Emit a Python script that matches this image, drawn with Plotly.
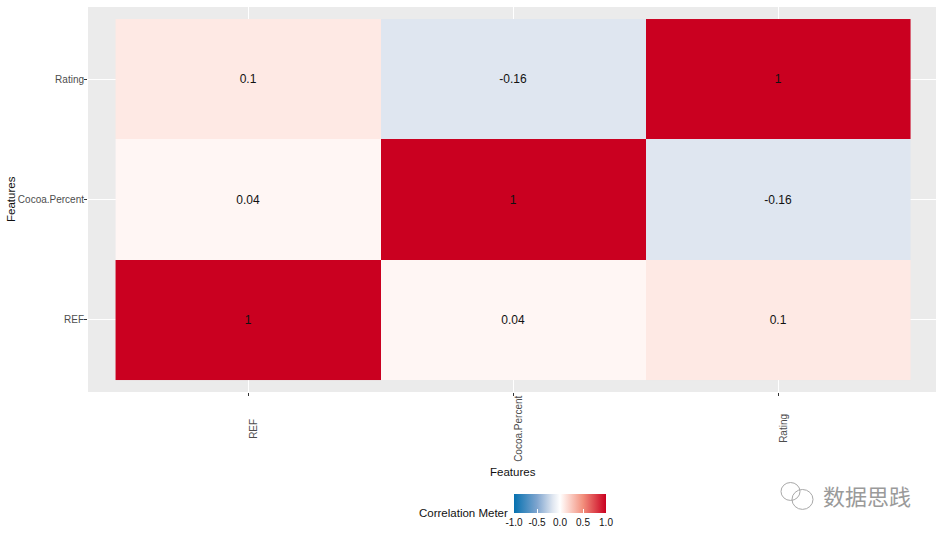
import plotly.graph_objects as go

features = ["REF", "Cocoa.Percent", "Rating"]
row_ref = [1, 0.04, 0.1]
row_cocoa = [0.04, 1, -0.16]
row_rating = [0.1, -0.16, 1]
z_values = [row_ref, row_cocoa, row_rating]
cell_text = [[str(v) for v in row] for row in z_values]
bar_ticks = [-1.0, -0.5, 0.0, 0.5, 1.0]

W, H = 943, 539
L, R, T, B = 88, 936, 7, 394
PW, PH = R - L, B - T


def px(x):
    return (x - L) / PW


def py(y):
    return (B - y) / PH


colorscale = [
    [0.0, "#0571b0"], [0.25, "#7fa5cf"], [0.42, "#dfe6f0"], [0.5, "#ffffff"],
    [0.55, "#fee9e4"], [0.75, "#f28f7c"], [1.0, "#ca0020"],
]

fig = go.Figure(go.Heatmap(
    x=[0, 1, 2], y=[0, 1, 2], z=z_values, zmin=-1, zmax=1,
    colorscale=colorscale, xgap=0, ygap=0,
    text=cell_text, texttemplate="%{text}",
    textfont=dict(size=12, color="#111111", family="Liberation Sans"),
    colorbar=dict(
        orientation="h", x=px(514), xanchor="left", y=py(497), yanchor="top",
        lenmode="pixels", len=92, thicknessmode="pixels", thickness=19,
        tickvals=bar_ticks, ticktext=[f"{v:.1f}" for v in bar_ticks],
        ticks="inside", ticklen=4, tickcolor="white", tickwidth=1,
        tickfont=dict(size=10, color="#111111", family="Liberation Sans"),
        outlinewidth=0, xpad=0, ypad=0,
    ),
))

annotations = [
    dict(x=f_i, y=py(431), xref="x", yref="paper", text=name, textangle=-90,
         showarrow=False, xshift=6, xanchor="center", yanchor="middle",
         font=dict(size=10, color="#4d4d4d"))
    for f_i, name in enumerate(features)
]
annotations += [
    dict(x=px(513), y=py(474), xref="paper", yref="paper", text="Features",
         showarrow=False, xanchor="center", yanchor="middle",
         font=dict(size=11.5, color="#111111")),
    dict(x=px(11), y=py(200), xref="paper", yref="paper", text="Features", textangle=-90,
         showarrow=False, xanchor="center", yanchor="middle",
         font=dict(size=11.5, color="#111111")),
    dict(x=px(510), y=py(516), xref="paper", yref="paper", text="Correlation Meter",
         showarrow=False, xanchor="right", yanchor="middle",
         font=dict(size=11.5, color="#111111")),
    dict(x=px(867), y=py(498), xref="paper", yref="paper", text="数据思践",
         showarrow=False, xanchor="center", yanchor="middle",
         font=dict(size=22, color="#9a9a9a", family="Noto Sans CJK SC")),
]

bubble = dict(type="circle", xref="paper", yref="paper",
              line=dict(color="#a8a8a8", width=1), fillcolor="rgba(0,0,0,0)")
shapes = [
    dict(bubble, x0=px(781), x1=px(800), y0=py(503), y1=py(485)),
    dict(bubble, x0=px(792), x1=px(813), y0=py(512), y1=py(492)),
]

fig.update_layout(
    width=W, height=H,
    margin=dict(l=L, r=W - R, t=T, b=H - B),
    paper_bgcolor="white", plot_bgcolor="#ebebeb",
    font=dict(family="Liberation Sans", color="#111111"),
    annotations=annotations, shapes=shapes,
    xaxis=dict(range=[-0.604, 2.596], tickvals=[0, 1, 2], ticktext=["", "", ""],
               ticks="outside", ticklen=3, tickcolor="#333333", tickwidth=1,
               showgrid=True, gridcolor="white", gridwidth=1, zeroline=False, showline=False),
    yaxis=dict(range=[-0.6, 2.6], tickvals=[0, 1, 2], ticktext=features,
               ticks="outside", ticklen=3, tickcolor="#333333", tickwidth=1,
               ticklabelstandoff=-2,
               tickfont=dict(size=10, color="#4d4d4d"),
               showgrid=True, gridcolor="white", gridwidth=1, zeroline=False, showline=False),
)

page_fix = (
    "document.body.style.margin='0';"
    "document.body.style.height='539px';"
    "document.body.style.overflow='hidden';"
    "document.documentElement.style.overflow='hidden';"
)
fig.write_html("out.html", post_script=page_fix, config=dict(displayModeBar=False))
